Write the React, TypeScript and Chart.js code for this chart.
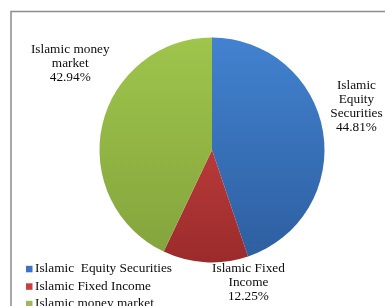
import React, { useEffect, useRef } from 'react';
import { Chart, registerables } from 'chart.js';

Chart.register(...registerables);

const categories = ['Islamic  Equity Securities', 'Islamic Fixed Income', 'Islamic money market'];
const shares = [44.81, 12.25, 42.94];
const sliceLabelLines = [
  ['Islamic', 'Equity', 'Securities'],
  ['Islamic Fixed', 'Income'],
  ['Islamic money', 'market'],
];

const gradientStops = [
  ['#4282d0', '#2d5e9f'],
  ['#d44a48', '#9b2b2b'],
  ['#9fc54c', '#83a33c'],
];
const legendColors = ['#3b74c4', '#cd3d3d', '#9bbb59'];
// label anchors relative to pie centre, in units of the pie radius
const labelAnchors = [
  { dx: 1.284, dy: -0.391 },
  { dx: 0.324, dy: 1.176 },
  { dx: -1.26, dy: -0.773 },
];

const FONT = '13.3px "Liberation Serif", "DejaVu Serif", serif';
const TEXT_COLOR = '#0d0d0d';

const framePlugin = {
  id: 'frame',
  beforeDraw(chart: any) {
    const ctx = chart.ctx;
    ctx.save();
    ctx.fillStyle = '#ffffff';
    ctx.fillRect(0, 0, chart.width, chart.height);
    ctx.strokeStyle = '#8c8c8c';
    ctx.lineWidth = 1.5;
    ctx.beginPath();
    ctx.moveTo(11, chart.height + 2);
    ctx.lineTo(11, 11.5);
    ctx.lineTo(chart.width + 2, 11.5);
    ctx.stroke();
    ctx.restore();
  },
};

const labelPlugin = {
  id: 'sliceLabels',
  afterDatasetsDraw(chart: any) {
    const ctx = chart.ctx;
    const meta = chart.getDatasetMeta(0);
    const values = chart.data.datasets[0].data as number[];
    ctx.save();
    ctx.font = FONT;
    ctx.fillStyle = TEXT_COLOR;
    ctx.textAlign = 'center';
    ctx.textBaseline = 'middle';
    const lh = 14;
    meta.data.forEach((arc: any, i: number) => {
      const { x, y, outerRadius } = arc.getProps(['x', 'y', 'outerRadius'], true);
      const cx = x + labelAnchors[i].dx * outerRadius;
      const cy = y + labelAnchors[i].dy * outerRadius;
      const lines = [...sliceLabelLines[i], values[i].toFixed(2) + '%'];
      lines.forEach((t, k) => {
        ctx.fillText(t, cx, cy + (k - (lines.length - 1) / 2) * lh);
      });
    });
    ctx.restore();
  },
};

const legendPlugin = {
  id: 'customLegend',
  afterDraw(chart: any) {
    const ctx = chart.ctx;
    ctx.save();
    ctx.font = FONT;
    ctx.fillStyle = TEXT_COLOR;
    ctx.textAlign = 'left';
    ctx.textBaseline = 'alphabetic';
    const startBase = 272.3;
    const step = 17.5;
    (chart.data.labels as string[]).forEach((lab, i) => {
      const base = startBase + i * step;
      ctx.fillStyle = legendColors[i];
      ctx.fillRect(26, base - 6.5, 6.5, 6.5);
      ctx.fillStyle = TEXT_COLOR;
      ctx.fillText(lab, 35, base);
    });
    ctx.restore();
  },
};

export default function App() {
  const ref = useRef<HTMLCanvasElement>(null);
  useEffect(() => {
    if (!ref.current) return;
    const chart = new Chart(ref.current, {
      type: 'pie',
      data: {
        labels: categories,
        datasets: [
          {
            data: shares,
            borderWidth: 0,
            backgroundColor: (c: any) => {
              const i = c.dataIndex;
              const area = c.chart.chartArea;
              if (!area) return gradientStops[i][0];
              const g = c.chart.ctx.createLinearGradient(0, area.top, 0, area.bottom);
              g.addColorStop(0, gradientStops[i][0]);
              g.addColorStop(1, gradientStops[i][1]);
              return g;
            },
          },
        ],
      },
      options: {
        responsive: false,
        animation: false,
        devicePixelRatio: 1,
        layout: { padding: { left: 99.5, right: 60.5, top: 37.5, bottom: 43.5 } },
        plugins: {
          legend: { display: false },
          tooltip: { enabled: false },
        },
      },
      plugins: [framePlugin, labelPlugin, legendPlugin],
    });
    return () => chart.destroy();
  }, []);
  return (
    <div style={{ position: 'fixed', left: 0, top: 0, width: 385, height: 306, background: '#fff' }}>
      <canvas ref={ref} width={385} height={306} style={{ display: 'block' }} />
    </div>
  );
}
